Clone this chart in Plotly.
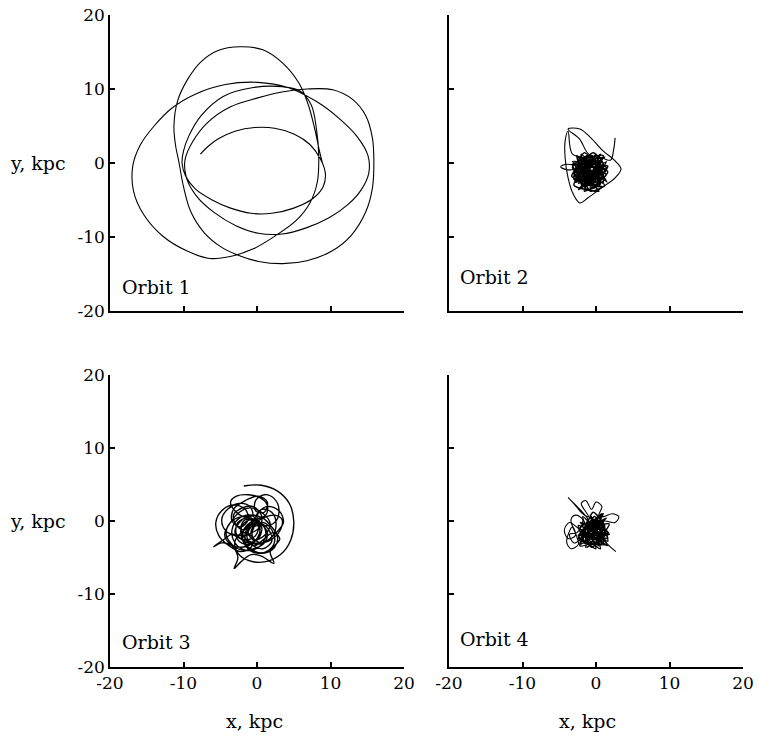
import plotly.graph_objects as go

# ---------------- data (kpc) ----------------
tick_vals = [-20, -10, 0, 10, 20]
tick_text = ["-20", "-10", "0", "10", "20"]
panel_labels = ["Orbit 1", "Orbit 2", "Orbit 3", "Orbit 4"]

orbit1_x = [-7.7, -6.6, -5.2, -3.0, -0.3, 2.4, 5.1, 7.2, 8.6, 9.3, 9.0, 7.6, 5.0, 2.0, -0.8, -3.6,
            -6.1, -8.4, -9.7, -10.2,
            -10.0, -9.3, -7.6, -4.6, -0.5, 3.5, 5.9, 7.4, 8.1, 8.4, 8.2, 7.2, 5.3, 2.4, -0.5,
            -3.5, -6.4, -9.5, -12.8, -15.4, -16.8, -16.9, -15.9, -14.0, -11.6, -8.4, -4.3, 0.1,
            4.2, 8.1, 11.2, 13.6, 15.1, 15.2, 14.2, 12.4, 9.8, 6.6, 3.4, 0.2, -2.8, -5.8, -8.2,
            -9.6, -9.8, -8.8, -6.8, -3.6, 0.1, 3.4, 6.8, 10.3, 13.0, 14.8, 15.7, 15.9, 15.7,
            14.8, 12.8, 10.0, 6.8, 3.5, 0.2, -2.2, -4.8, -7.2, -9.0, -10.0, -10.6, -11.1, -11.3,
            -10.8, -9.5, -7.7, -5.3, -2.3, 0.8, 3.5, 5.7, 7.0, 7.9, 8.5, 8.9]
orbit1_y = [1.2, 2.3, 3.3, 4.3, 4.8, 4.7, 3.9, 2.5, 0.6, -1.4, -3.2, -4.8, -6.1, -6.8, -6.8, -6.1,
            -5.0, -3.5, -1.8, 0.0,
            1.6, 3.6, 6.4, 9.0, 10.2, 10.3, 9.7, 7.8, 4.5, 1.0, -2.6, -5.4, -7.8, -9.9, -11.6,
            -12.6, -12.9, -11.9, -9.9, -7.0, -3.8, -0.4, 2.4, 5.0, 7.4, 9.3, 10.6, 10.9,
            10.2, 8.3, 6.0, 3.6, 1.0, -1.4, -3.6, -5.6, -7.4, -8.8, -9.6, -9.5, -8.5, -6.7, -4.5,
            -2.0, 0.4, 2.8, 5.4, 7.6, 8.8, 9.6, 10.0, 9.9, 8.6, 6.4, 3.4, 0.0, -3.4,
            -6.6, -9.8, -12.0, -13.2, -13.6, -13.3, -12.6, -11.4, -9.4, -6.6, -3.2, 0.0, 2.5, 5.0,
            8.4, 11.2, 13.6, 15.2, 15.7, 15.3, 13.5, 10.8, 7.8, 4.4, 1.6, 0.0]

# orbit 2: outer excursions (tail, triangular loop, left lobe) and the dense core
orbit2_x = [2.6, 2.4, 2.0, 1.0, -1.0, -2.2, -3.8, -2.2, -0.7, 1.0, 2.6, 3.4, 2.6, 0.7, -1.1,
            -2.2, -3.1, -3.8, -4.2, -4.2, -3.8, -3.2, -0.9, -2.4, -4.2, -4.8, -4.0, -1.6]
orbit2_y = [3.4, 1.8, 0.4, 0.6, 1.2, 3.2, 4.6, 4.6, 3.4, 1.6, 0.3, -0.8, -2.0, -3.4, -4.7,
            -5.4, -4.2, -2.0, 0.7, 3.0, 4.3, 1.2, 0.6, -0.2, -0.2, -0.5, -0.9, -0.7]
core2_x = [-1.6, -3.2, 1.4, -2.8, 0.6, -1.6, 1.2, -3.0, 0.2, -0.8, 1.6, -2.4, -1.2, 0.8, -3.3,
           -0.4, 1.0, -2.2, -0.2, -2.6, 1.2, -1.8, 0.4, -3.0, -0.6, 1.5, -2.0, -1.4, 0.8, -2.8,
           -0.2, 1.0, -1.0, -3.2, -0.6, 1.4, -2.4, 0.0, -1.8, 0.6, -1.2, -2.8, 1.0, -0.4, -2.2,
           0.4, -1.6, -3.0, 0.2, 1.6, -1.0, -2.6, -0.8, 1.2, -1.4, 0.0, -2.0, 1.0, -2.8, -0.4,
           0.8, -1.6, -3.2, 0.4, -1.0, 1.4, -2.2, -0.2, -2.4, 0.6, -1.2, -2.6, 0.0, 1.2, -0.8,
           -2.0, 0.2, -1.4, -3.0, -0.6, 1.0, -1.8, 0.4, -0.2, -2.4, -1.0, 0.8, -1.6, -0.4, -2.2,
           0.6, -1.2, -0.6, -2.0, 0.2, -1.4, -0.8, -2.4, 0.0, -1.6, -0.2]
core2_y = [-0.8, 0.2, -0.6, -2.6, 1.2, -3.8, -2.2, -1.0, 0.6, -3.4, -1.2, 0.8, -2.8, -3.2, -1.8,
           1.4, -0.2, -3.4, -2.0, -0.4, 0.8, -1.4, -3.8, -3.0, 0.2, -2.6, 1.2, -2.0, 0.2, -1.6,
           -3.2, -1.6, 1.0, -0.6, -2.6, 0.2, -2.8, -0.4, 0.4, -2.8, -3.6, 0.0, 1.0, -1.4, -2.2,
           -1.0, 1.4, -2.2, -2.4, -0.4, -0.6, 1.0, -3.8, -3.0, -1.0, 1.2, -3.0, -2.0, -1.2, 0.6,
           -1.2, -2.4, -0.2, 0.2, -3.0, -1.6, 0.2, -1.8, -3.6, -0.2, 0.8, -2.0, -3.0, -0.8, -1.2,
           -0.6, -1.4, -3.2, -1.4, 1.0, -2.6, -1.8, -2.0, 0.0, -1.0, -2.2, -0.6, 0.0, -2.8, -1.6,
           -1.6, -1.4, -0.4, -2.6, -0.8, -0.4, -2.0, -0.2, -2.2, -3.0, -1.0]

orbit3_x = [-1.8, 0.6, 2.8, 4.4, 5.0, 4.6, 3.2, 1.0, -1.2, -2.6, -3.0, -2.0, -0.6, -0.8, -2.2, -3.8,
            -5.2, -5.6, -4.8, -3.2, -1.6, -1.2, -2.2, -3.4, -3.2, -1.6, 0.2, 1.4, 1.0, -0.2, -0.2,
            1.0, 2.4, 3.0, 2.4, 1.0, 0.0, 0.6, 2.0, 2.6, 2.0, 0.6, -0.6, -0.4, 0.8, 1.2, 0.2,
            -1.6, -3.0, -3.4, -2.4, -0.8, 0.2, -0.2, -1.6, -2.8, -2.6, -1.2, -0.4, -1.0, -2.2,
            -3.4, -4.6, -5.9, -4.8, -3.4, -2.6, -3.1, -2.2, -0.8, 0.6, 2.3, 1.8, 3.1, 2.2, 0.8,
            -0.4, -1.6, -1.2, 0.2, 1.6, 2.0, 0.8, -0.8, -1.4, -0.6, 0.6, 0.2, -1.2, -2.6, -4.2,
            -4.8, -4.0, -2.4, -1.0, -0.6, -1.8, -3.0, -3.6, -2.8, -1.2, 0.4, 1.4, 1.2, -0.2, -1.4,
            -2.0, -1.0, 0.8, 2.2, 3.2, 3.4, 2.4, 0.8, -0.6, -1.2, -0.4, 1.0, 1.8, 0.6, -1.0,
            -2.4, -3.6, -4.4, -3.8, -2.2, -0.6, 0.4, -0.2, -1.6, -2.2, -1.4, 0.0, 1.2, 2.6,
            3.6, 3.0, 1.4, 0.2, -0.8, -1.8, -2.8, -3.2, -2.0, -0.6, 0.6, 0.4, -0.8, -0.4, 0.8,
            2.0, 2.4, 1.6, 0.0, -1.4, -2.0, -1.2, 0.4, 1.4, 1.0, -0.4, -2.0, -3.4, -4.2, -3.6,
            -2.0, -0.4, 0.4, 0.0, -1.2, -2.4, -3.0, -2.2, -0.8, 0.8, 2.0, 2.8, 2.4, 1.0, -0.6,
            -1.8, -2.2, -1.4, 0.0, 0.6]
orbit3_y = [4.8, 4.9, 4.1, 2.4, 0.0, -2.6, -4.6, -5.6, -5.4, -4.4, -2.8, -1.6, -2.2, -3.6, -4.2, -3.4,
            -2.0, -0.2, 1.4, 2.2, 1.6, 0.2, -0.8, 0.0, 1.6, 2.8, 3.4, 2.6, 1.2, 1.4, 2.8,
            3.6, 3.0, 1.4, -0.2, -0.6, 0.4, 1.6, 1.2, -0.4, -2.2, -3.0, -2.2, -0.8, -0.6, -2.0, -3.6,
            -4.0, -3.0, -1.2, 0.4, 0.8, -0.4, -2.0, -2.6, -1.8, -0.2, 0.4, -0.6, -1.8, -2.0,
            -1.8, -2.6, -3.5, -3.0, -3.4, -5.0, -6.5, -5.6, -4.6, -4.8, -5.8, -4.2, -2.4, -1.6, -2.6,
            -3.4, -2.4, -0.8, -0.2, -1.2, -2.8, -3.8, -3.2, -1.8, -0.4, -0.8, -2.4, -3.0, -2.2, -1.4,
            0.2, 1.6, 2.4, 2.0, 0.8, 0.6, 1.4, 2.6, 3.4, 3.6, 3.2, 2.2, 0.8, 0.2, -0.6,
            -1.8, -2.8, -3.0, -2.4, -1.2, 0.2, 0.8, 0.4, -0.6, -1.6, -2.6, -2.0, -0.4, 1.2, 1.8,
            1.2, -0.2, -1.8, -3.0, -3.6, -3.0, -1.6, -0.2, 0.2, -1.0, -2.6, -3.2, -2.8, -1.6,
            -0.2, 1.4, 2.0, 1.2, -0.4, -1.2, -0.6, 0.8, 1.8, 2.0, 0.8, -0.8, -1.6, -0.6, -0.2,
            -1.2, -2.8, -4.0, -4.4, -3.6, -2.0, -0.6, -0.4, -1.6, -3.0, -3.8, -4.0, -3.2, -1.8, -0.2,
            0.6, 0.2, -1.0, -2.4, -3.2, -2.8, -1.4, 0.0, 0.8, 0.4, -0.8, -2.2, -3.6, -4.4, -4.0,
            -2.8, -1.2, 0.0, 0.2, -0.6]

# orbit 4: outer excursions (petals, right loop, left loops, tail) and the dense core
orbit4_x = [2.7, 1.8, 0.8, -0.6, -1.2, -2.4, -3.8, -3.2, -1.8, -1.0, -2.0, -1.4, -0.6, 0.0, 0.8,
            0.4, 1.0, 2.2, 3.1, 2.6, 1.2, -0.4, -2.0, -2.4, -3.6, -4.3, -3.8, -2.8, -3.2, -4.0,
            -3.4, -2.4, -2.6, -3.4, -2.8, -1.8, -2.6, -3.6, -3.0, -2.2]
orbit4_y = [-4.2, -3.4, -2.4, -1.4, 0.4, 1.8, 3.2, 2.6, 1.0, 0.6, 2.4, 2.8, 1.6, 2.6, 2.0,
            0.8, 0.6, 1.0, 0.6, -0.2, 0.0, -0.4, -1.2, -1.0, -0.2, -1.2, -2.4, -2.0, -0.8, -2.8,
            -3.8, -3.2, -2.2, 0.2, 0.8, 0.2, -1.6, -1.8, -3.0, -2.6]
core4_x = [-2.2, 1.6, -1.4, 1.0, -2.4, 1.4, -0.8, 0.6, -2.0, 1.8, -0.2, -1.8, 0.8, -2.2, 0.4,
           1.6, -1.2, 0.0, -2.4, 1.2, -1.0, 0.4, -2.0, 1.4, -0.6, -1.6, 0.8, -0.2, 1.6, -2.2,
           0.0, 1.0, -1.8, -0.4, 1.2, -1.2, -2.4, 0.4, 1.8, -0.8, -2.0, 0.2, -0.6, 1.4, -1.6,
           0.6, -2.2, -0.2, 1.6, -1.2, 0.4, -0.4, -1.8, 1.0, -1.0, 0.0, 0.8, -1.4, -0.6, 0.4,
           -2.0, 1.2, -0.2, -1.6, 0.6, -0.8, 1.4, -1.2, 0.2, -0.4]
core4_y = [-0.2, -1.6, -3.6, 1.0, -2.4, -3.2, 0.8, -3.8, -1.4, -0.4, -3.0, 0.6, -2.4, -3.4, 0.4,
           -2.8, -0.8, -3.8, -2.0, 0.2, -2.6, -0.6, -0.4, -1.2, -3.6, -1.6, 1.0, -2.2, -3.4, -1.0,
           0.2, -3.0, -2.8, 1.2, -0.8, -3.2, -0.6, -1.8, -1.8, 0.4, -2.6, -3.2, -1.0, 0.4, -2.2,
           -1.4, -3.2, 0.6, -2.4, -1.6, -3.4, -0.6, -1.2, -2.8, -2.0, -0.4, -1.8, -2.6, -1.2, -2.4,
           -2.0, -0.8, -1.4, -3.0, -2.8, -0.2, -2.0, -1.0, -1.6, -2.2]

# ---------------- figure ----------------
axis_ids = [("x", "y"), ("x2", "y2"), ("x3", "y3"), ("x4", "y4")]
traces = [
    (orbit1_x, orbit1_y, "x", "y", 1.1, 1.0),
    (orbit2_x, orbit2_y, "x2", "y2", 1.1, 1.0),
    (core2_x, core2_y, "x2", "y2", 1.5, 0.6),
    (orbit3_x, orbit3_y, "x3", "y3", 1.35, 1.0),
    (orbit4_x, orbit4_y, "x4", "y4", 1.1, 1.0),
    (core4_x, core4_y, "x4", "y4", 1.5, 0.6),
]

fig = go.Figure()
for ox, oy, xa, ya, w, sm in traces:
    fig.add_trace(go.Scatter(x=ox, y=oy, mode="lines", xaxis=xa, yaxis=ya,
                             line=dict(color="black", width=w, shape="spline", smoothing=sm),
                             showlegend=False, hoverinfo="skip"))

FONT = "DejaVu Serif"
common = dict(range=[-20, 20], tickmode="array", tickvals=tick_vals, ticktext=tick_text,
              ticks="inside", ticklen=5, tickwidth=1.5, tickcolor="black",
              showline=True, linecolor="black", linewidth=1.6, mirror=False,
              showgrid=False, zeroline=False, fixedrange=True, automargin=False,
              tickfont=dict(family=FONT, size=17, color="black"))

xl = [110 / 759, 404 / 759]
xr = [449 / 759, 743 / 759]
yt = [1 - 311 / 736, 1 - 15 / 736]
yb = [1 - 667 / 736, 1 - 375 / 736]

fig.update_layout(
    width=759, height=736, margin=dict(l=0, r=0, t=0, b=0, autoexpand=False),
    paper_bgcolor="white", plot_bgcolor="white",
    xaxis=dict(common, domain=xl, anchor="y", showticklabels=False),
    yaxis=dict(common, domain=yt, anchor="x", showticklabels=True),
    xaxis2=dict(common, domain=xr, anchor="y2", showticklabels=False),
    yaxis2=dict(common, domain=yt, anchor="x2", showticklabels=False),
    xaxis3=dict(common, domain=xl, anchor="y3", showticklabels=True),
    yaxis3=dict(common, domain=yb, anchor="x3", showticklabels=True),
    xaxis4=dict(common, domain=xr, anchor="y4", showticklabels=True),
    yaxis4=dict(common, domain=yb, anchor="x4", showticklabels=False),
)

lab_font = dict(family=FONT, size=19, color="black")
label_pos = [(-18.6, -16.8), (-18.8, -15.4), (-18.6, -16.6), (-18.8, -16.2)]
for text, (xa, ya), (lx, ly) in zip(panel_labels, axis_ids, label_pos):
    fig.add_annotation(text=text, xref=xa, yref=ya, x=lx, y=ly, xanchor="left", yanchor="middle",
                       showarrow=False, font=lab_font)

for ya in ["y", "y3"]:
    fig.add_annotation(text="y, kpc", xref="paper", yref=ya, x=8 / 759, y=0,
                       xanchor="left", yanchor="middle", showarrow=False, font=lab_font)
for xa, cx in [("x3", -0.4), ("x4", -1.2)]:
    fig.add_annotation(text="x, kpc", xref=xa, yref="paper", x=cx, y=1 - 721 / 736,
                       xanchor="center", yanchor="middle", showarrow=False, font=lab_font)

fig.write_html("out.html")
